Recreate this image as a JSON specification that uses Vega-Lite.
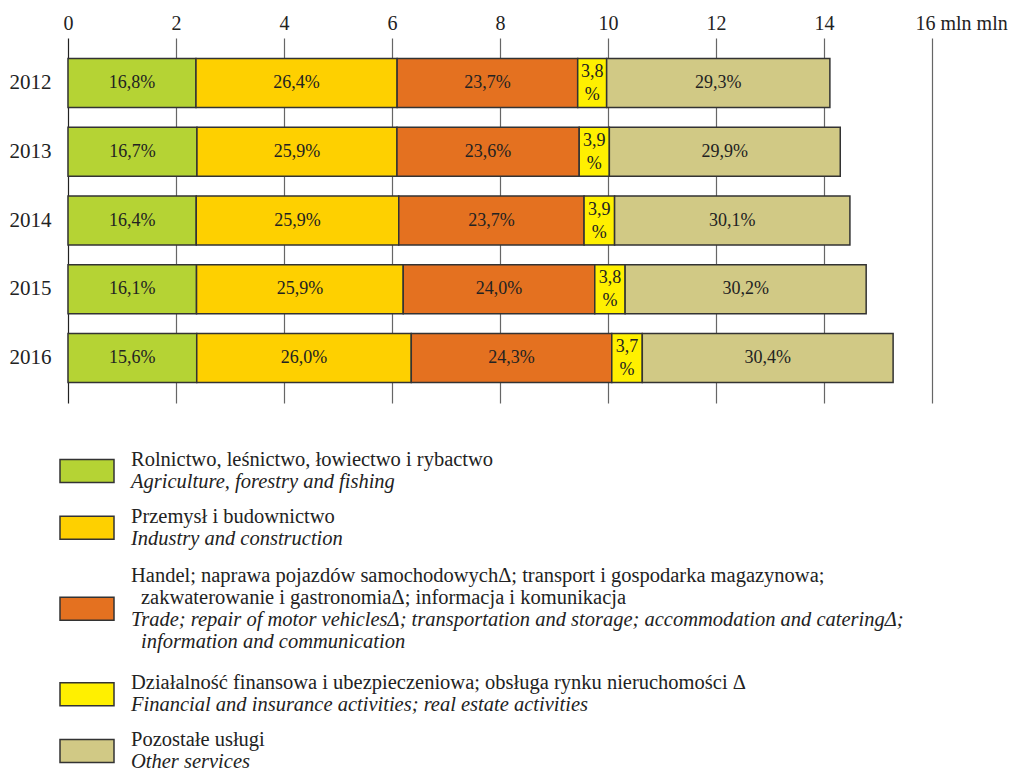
{
  "$schema": "https://vega.github.io/schema/vega-lite/v6.json",
  "padding": {"left": 9, "top": 13, "right": 2, "bottom": 0},
  "config": {"view": {"stroke": null}, "font": "Liberation Serif", "text": {"font": "Liberation Serif"}},
  "spacing": 57,
  "bounds": "flush",
  "vconcat": [
    {
      "width": 864,
      "height": 365,
      "data": {"values": [
        {"year": "2012", "sector": "agri", "ord": 1, "value": 2.370, "label": "16,8%"},
        {"year": "2012", "sector": "ind", "ord": 2, "value": 3.725, "label": "26,4%"},
        {"year": "2012", "sector": "trade", "ord": 3, "value": 3.344, "label": "23,7%"},
        {"year": "2012", "sector": "fin", "ord": 4, "value": 0.536, "label": "3,8\n%"},
        {"year": "2012", "sector": "other", "ord": 5, "value": 4.134, "label": "29,3%"},
        {"year": "2013", "sector": "agri", "ord": 1, "value": 2.388, "label": "16,7%"},
        {"year": "2013", "sector": "ind", "ord": 2, "value": 3.704, "label": "25,9%"},
        {"year": "2013", "sector": "trade", "ord": 3, "value": 3.375, "label": "23,6%"},
        {"year": "2013", "sector": "fin", "ord": 4, "value": 0.558, "label": "3,9\n%"},
        {"year": "2013", "sector": "other", "ord": 5, "value": 4.276, "label": "29,9%"},
        {"year": "2014", "sector": "agri", "ord": 1, "value": 2.375, "label": "16,4%"},
        {"year": "2014", "sector": "ind", "ord": 2, "value": 3.750, "label": "25,9%"},
        {"year": "2014", "sector": "trade", "ord": 3, "value": 3.432, "label": "23,7%"},
        {"year": "2014", "sector": "fin", "ord": 4, "value": 0.565, "label": "3,9\n%"},
        {"year": "2014", "sector": "other", "ord": 5, "value": 4.358, "label": "30,1%"},
        {"year": "2015", "sector": "agri", "ord": 1, "value": 2.380, "label": "16,1%"},
        {"year": "2015", "sector": "ind", "ord": 2, "value": 3.828, "label": "25,9%"},
        {"year": "2015", "sector": "trade", "ord": 3, "value": 3.547, "label": "24,0%"},
        {"year": "2015", "sector": "fin", "ord": 4, "value": 0.562, "label": "3,8\n%"},
        {"year": "2015", "sector": "other", "ord": 5, "value": 4.464, "label": "30,2%"},
        {"year": "2016", "sector": "agri", "ord": 1, "value": 2.384, "label": "15,6%"},
        {"year": "2016", "sector": "ind", "ord": 2, "value": 3.973, "label": "26,0%"},
        {"year": "2016", "sector": "trade", "ord": 3, "value": 3.713, "label": "24,3%"},
        {"year": "2016", "sector": "fin", "ord": 4, "value": 0.565, "label": "3,7\n%"},
        {"year": "2016", "sector": "other", "ord": 5, "value": 4.645, "label": "30,4%"}
      ]},
      "encoding": {
        "y": {
          "field": "year", "type": "nominal",
          "scale": {"paddingInner": 0.29, "paddingOuter": 0.3},
          "axis": {"title": null, "domain": false, "ticks": false, "labelPadding": 17, "labelFontSize": 21, "labelColor": "#222", "labelFont": "Liberation Serif"}
        }
      },
      "layer": [
        {
          "mark": {"type": "bar", "stroke": "#333", "strokeWidth": 1.5},
          "encoding": {
            "x": {
              "field": "value", "type": "quantitative", "stack": "zero",
              "scale": {"domain": [0, 16], "nice": false},
              "axis": {
                "title": null, "orient": "top", "domain": false, "ticks": false, "grid": true,
                "values": [0, 2, 4, 6, 8, 10, 12, 14, 16],
                "labelFontSize": 20, "labelPadding": 5, "labelColor": "#222", "labelFont": "Liberation Serif",
                "labelExpr": "datum.value == 16 ? '16 mln mln' : datum.label",
                "labelAlign": {"condition": {"test": "datum.value == 16", "value": "left"}, "value": "center"},
                "labelOffset": {"condition": {"test": "datum.value == 16", "value": -17}, "value": 0},
                "gridColor": {"condition": {"test": "datum.value == 0", "value": "#222"}, "value": "#666"},
                "gridWidth": 1.2
              }
            },
            "color": {
              "field": "sector", "type": "nominal",
              "scale": {"domain": ["agri", "ind", "trade", "fin", "other"], "range": ["#b5d334", "#fed000", "#e47120", "#fff000", "#d1c985"]},
              "legend": null
            },
            "order": {"field": "ord", "type": "quantitative"}
          }
        },
        {
          "mark": {"type": "text", "font": "Liberation Serif", "fontSize": 18, "color": "#222", "baseline": "middle"},
          "encoding": {
            "x": {"field": "value", "type": "quantitative", "stack": "zero", "bandPosition": 0.5},
            "detail": {"field": "sector", "type": "nominal"},
            "order": {"field": "ord", "type": "quantitative"},
            "text": {"condition": {"test": "datum.sector != 'fin'", "field": "label"}, "value": ""}
          }
        },
        {
          "mark": {"type": "text", "font": "Liberation Serif", "fontSize": 18, "lineBreak": "\n", "lineHeight": 23, "dy": -11, "color": "#222", "baseline": "middle"},
          "encoding": {
            "x": {"field": "value", "type": "quantitative", "stack": "zero", "bandPosition": 0.5},
            "detail": {"field": "sector", "type": "nominal"},
            "order": {"field": "ord", "type": "quantitative"},
            "text": {"condition": {"test": "datum.sector == 'fin'", "field": "label"}, "value": ""}
          }
        }
      ]
    },
    {
      "width": 864,
      "height": 302,
      "data": {"values": [
        {"sector": "agri", "lang": "pl", "cont": false, "row": 0, "text": "Rolnictwo, leśnictwo, łowiectwo i rybactwo"},
        {"sector": "agri", "lang": "en", "cont": false, "row": 1, "text": "Agriculture, forestry and fishing"},
        {"sector": "ind", "lang": "pl", "cont": false, "row": 2.6, "text": "Przemysł i budownictwo"},
        {"sector": "ind", "lang": "en", "cont": false, "row": 3.6, "text": "Industry and construction"},
        {"sector": "trade", "lang": "pl", "cont": false, "row": 5.3, "text": "Handel; naprawa pojazdów samochodowychΔ; transport i gospodarka magazynowa;"},
        {"sector": "trade", "lang": "pl", "cont": true, "row": 6.3, "text": "zakwaterowanie i gastronomiaΔ; informacja i komunikacja"},
        {"sector": "trade", "lang": "en", "cont": false, "row": 7.3, "text": "Trade; repair of motor vehiclesΔ; transportation and storage; accommodation and cateringΔ;"},
        {"sector": "trade", "lang": "en", "cont": true, "row": 8.3, "text": "information and communication"},
        {"sector": "fin", "lang": "pl", "cont": false, "row": 10.2, "text": "Działalność finansowa i ubezpieczeniowa; obsługa rynku nieruchomości Δ"},
        {"sector": "fin", "lang": "en", "cont": false, "row": 11.2, "text": "Financial and insurance activities; real estate activities"},
        {"sector": "other", "lang": "pl", "cont": false, "row": 12.8, "text": "Pozostałe usługi"},
        {"sector": "other", "lang": "en", "cont": false, "row": 13.8, "text": "Other services"}
      ]},
      "layer": [
        {
          "mark": {"type": "rect", "height": 23, "stroke": "#333", "strokeWidth": 1.5},
          "encoding": {
            "x": {"datum": -8, "type": "quantitative", "scale": {"domain": [0, 864], "nice": false, "zero": false}, "axis": null},
            "x2": {"datum": 46},
            "y": {"aggregate": "mean", "field": "row", "type": "quantitative", "scale": {"domain": [0, 13.8], "reverse": true, "nice": false, "zero": false}, "axis": null},
            "color": {
              "field": "sector", "type": "nominal",
              "scale": {"domain": ["agri", "ind", "trade", "fin", "other"], "range": ["#b5d334", "#fed000", "#e47120", "#fff000", "#d1c985"]},
              "legend": null
            }
          }
        },
        {
          "transform": [{"filter": "datum.lang == 'pl' && !datum.cont"}],
          "mark": {"type": "text", "font": "Liberation Serif", "align": "left", "baseline": "middle", "fontSize": 20.5, "color": "#222"},
          "encoding": {
            "x": {"datum": 63, "type": "quantitative"},
            "y": {"field": "row", "type": "quantitative"},
            "text": {"field": "text", "type": "nominal"}
          }
        },
        {
          "transform": [{"filter": "datum.lang == 'pl' && datum.cont"}],
          "mark": {"type": "text", "font": "Liberation Serif", "align": "left", "baseline": "middle", "fontSize": 20.5, "dx": 10, "color": "#222"},
          "encoding": {
            "x": {"datum": 63, "type": "quantitative"},
            "y": {"field": "row", "type": "quantitative"},
            "text": {"field": "text", "type": "nominal"}
          }
        },
        {
          "transform": [{"filter": "datum.lang == 'en' && !datum.cont"}],
          "mark": {"type": "text", "font": "Liberation Serif", "align": "left", "baseline": "middle", "fontSize": 20.5, "fontStyle": "italic", "color": "#222"},
          "encoding": {
            "x": {"datum": 63, "type": "quantitative"},
            "y": {"field": "row", "type": "quantitative"},
            "text": {"field": "text", "type": "nominal"}
          }
        },
        {
          "transform": [{"filter": "datum.lang == 'en' && datum.cont"}],
          "mark": {"type": "text", "font": "Liberation Serif", "align": "left", "baseline": "middle", "fontSize": 20.5, "fontStyle": "italic", "dx": 10, "color": "#222"},
          "encoding": {
            "x": {"datum": 63, "type": "quantitative"},
            "y": {"field": "row", "type": "quantitative"},
            "text": {"field": "text", "type": "nominal"}
          }
        }
      ]
    }
  ]
}
